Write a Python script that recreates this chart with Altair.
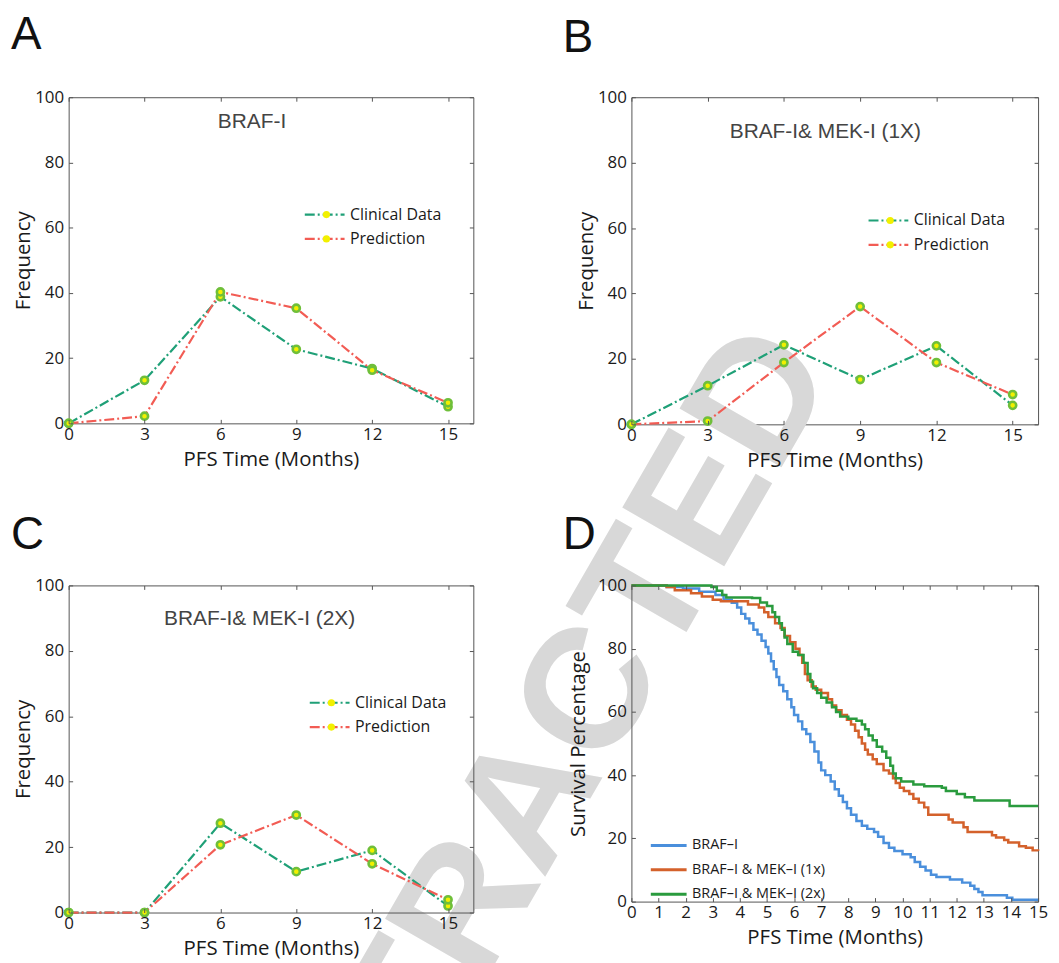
import altair as alt
import pandas as pd

# ---------------- data ----------------
months = [0, 3, 6, 9, 12, 15]
series_names = ["Clinical Data", "Prediction"]
marker_names = ["Clinical Data marker", "Prediction marker"]

a_clin = [0, 13.2, 38.8, 22.7, 16.8, 5.1]
a_pred = [0, 2.2, 40.3, 35.3, 16.3, 6.3]
b_clin = [0, 11.8, 24.3, 13.7, 24.0, 5.8]
b_pred = [0, 1.0, 18.9, 36.0, 18.9, 9.1]
c_clin = [0, 0, 27.3, 12.5, 19.0, 2.0]
c_pred = [0, 0, 20.7, 29.8, 14.9, 3.9]

freq_ticks = [0, 20, 40, 60, 80, 100]
d_month_ticks = list(range(16))

groups = ["BRAF\u2013I", "BRAF\u2013I & MEK\u2013I (1x)", "BRAF\u2013I & MEK\u2013I (2x)"]

braf_t = [0, 1.3, 1.9, 2.5, 3.1, 3.4, 3.7, 3.9, 4.05, 4.2, 4.35, 4.5, 4.65, 4.8, 4.95,
          5.05, 5.15, 5.25, 5.35, 5.45, 5.6, 5.75, 5.9, 6.0, 6.15, 6.3, 6.45, 6.6, 6.75,
          6.9, 7.0, 7.15, 7.35, 7.5, 7.65, 7.8, 7.95, 8.1, 8.3, 8.5, 8.7, 8.95, 9.1, 9.3,
          9.5, 9.7, 10.0, 10.3, 10.45, 10.65, 10.85, 11.05, 11.25, 11.75, 12.2, 12.5,
          12.65, 12.8, 12.95, 13.85, 14.05, 15.0]
braf_v = [100, 99.5, 99, 98, 97, 95.5, 94.5, 93, 91, 89.5, 88, 86, 84.5, 82.5, 80.5,
          78.5, 76, 73.5, 71, 68.5, 66.5, 64, 61.5, 59, 57, 54.5, 53, 50.5, 47.5,
          44, 41.5, 40, 38, 35.5, 33.5, 31.5, 29.5, 27.5, 25.5, 24, 23, 22, 20.5, 18.5,
          17, 16, 15, 14, 12.5, 11, 9.8, 8.5, 7.8, 7, 6, 5,
          4, 3, 2, 1.2, 0.6, 0.6]

mek1_t = [0, 1.3, 1.6, 2.2, 2.6, 3.0, 3.3, 4.3, 4.7, 4.9, 5.05, 5.3, 5.5, 5.65, 5.85,
          6.05, 6.2, 6.3, 6.4, 6.5, 6.65, 6.8, 7.0, 7.25, 7.4, 7.55, 7.75, 7.95, 8.1,
          8.25, 8.38, 8.5, 8.62, 8.72, 8.9, 9.05, 9.3, 9.5, 9.65, 9.75, 9.9, 10.05,
          10.25, 10.4, 10.6, 10.8, 10.95, 11.7, 11.85, 12.25, 12.4, 13.3, 13.45, 13.75,
          13.9, 14.3, 14.55, 14.8, 15.0]
mek1_v = [100, 99.5, 98.5, 97.5, 96.5, 95.5, 95, 94, 93, 91.5, 90, 88, 86.5, 84, 82,
          80, 78, 75.5, 72, 70, 68, 67, 66, 64, 62, 60.5, 59, 57.5, 56,
          54, 52, 50, 48, 46.5, 45, 43.5, 41.5, 40.5, 39, 37.5, 36, 35,
          34, 32.5, 31.3, 29.8, 27.5, 26, 25, 23.5, 22, 21, 20.3, 19.5,
          18.7, 17.5, 17, 16.2, 16]

mek2_t = [0, 2.95, 3.15, 3.35, 3.5, 4.45, 4.75, 5.0, 5.2, 5.3, 5.45, 5.55, 5.65, 5.75,
          5.95, 6.15, 6.35, 6.5, 6.6, 6.7, 6.85, 7.0, 7.2, 7.4, 7.55, 7.7, 8.0, 8.3,
          8.5, 8.62, 8.75, 8.9, 9.05, 9.25, 9.4, 9.55, 9.65, 9.75, 9.95, 10.4, 10.8,
          11.45, 11.6, 12.0, 12.3, 12.65, 13.95, 15.0]
mek2_v = [100, 99.5, 98.3, 97, 96.2, 96, 94.6, 93.5, 91.5, 90, 88, 86, 83.5, 81.5,
          79, 78, 75.5, 72, 69.5, 67.5, 66, 64.5, 63, 61.5, 60, 58.5, 57.8, 57.2,
          56, 54.5, 52.5, 51, 49, 47.5, 45.5, 43, 40.5, 39, 38, 37, 36.5,
          36, 35, 34, 33, 32, 30.2, 30.2]

# ---------------- styles ----------------
TEAL = "#1fa077"
RED = "#f25c54"
YELLOW = "#f2f000"
GREEN_MK = "#6fbf3a"
DASH = [10, 3, 2, 3]
D_COLORS = ["#4a8fdc", "#d4612b", "#2a9b3e"]
TXT = "#1a1a1a"


def panel_title(letter, dx, dy):
    return alt.TitleParams(letter, anchor="start", frame="group", dx=dx, dy=dy,
                           font="Liberation Sans", fontSize=46, fontWeight="normal",
                           color="#111111", offset=0)


def freq_panel(clin, pred, letter, label, lab_x, lab_y, leg_x, leg_y, w, h,
               title_dx, title_dy, below=None):
    n = len(months)
    df = pd.DataFrame({
        "month": months * 2,
        "freq": clin + pred,
        "series": [series_names[0]] * n + [series_names[1]] * n,
        "marker": [marker_names[0]] * n + [marker_names[1]] * n,
    })
    xs = alt.Scale(domain=[0, 16], nice=False, zero=False)
    ys = alt.Scale(domain=[0, 100], nice=False)
    base = alt.Chart(df)
    lines = base.mark_line(strokeDash=DASH, strokeWidth=2.2).encode(
        x=alt.X("month:Q", scale=xs,
                axis=alt.Axis(orient="bottom", values=months, title="PFS Time (Months)",
                              offset=-4, tickSize=4, labelPadding=3, titlePadding=7,
                              zindex=1)),
        y=alt.Y("freq:Q", scale=ys,
                axis=alt.Axis(orient="left", values=freq_ticks, title="Frequency",
                              offset=-4, tickSize=4, labelPadding=5, titlePadding=1,
                              zindex=1)),
        color=alt.Color("series:N",
                        scale=alt.Scale(domain=series_names, range=[TEAL, RED]),
                        legend=alt.Legend(orient="none", legendX=leg_x, legendY=leg_y,
                                          title=None, symbolType="stroke", symbolSize=1600,
                                          symbolStrokeWidth=2.2, symbolDash=DASH,
                                          clipHeight=16, rowPadding=8.5, labelOffset=4,
                                          labelFontSize=16, labelFont="Open Sans",
                                          labelColor=TXT, padding=0)),
    )
    pts = base.mark_point(filled=True, fill=YELLOW, stroke=GREEN_MK, strokeWidth=2.6,
                          size=52, opacity=1).encode(
        x=alt.X("month:Q", scale=xs,
                axis=alt.Axis(orient="top", values=months, labels=False, title=None,
                              offset=-4, tickSize=4, zindex=1)),
        y=alt.Y("freq:Q", scale=ys,
                axis=alt.Axis(orient="right", values=freq_ticks, labels=False, title=None,
                              offset=-4, tickSize=4, zindex=1)),
        shape=alt.Shape("marker:N",
                        scale=alt.Scale(domain=marker_names, range=["circle", "circle"]),
                        legend=alt.Legend(orient="none", legendX=leg_x + 15.25, legendY=leg_y,
                                          title=None, symbolType="circle",
                                          symbolFillColor=YELLOW,
                                          symbolStrokeColor=GREEN_MK, symbolStrokeWidth=2.6,
                                          symbolSize=52, clipHeight=16, rowPadding=8.5,
                                          labelExpr="''", labelFontSize=16,
                                          labelFont="Open Sans", padding=0)),
    )
    txt = alt.Chart(pd.DataFrame({"t": [label]})).mark_text(
        font="Liberation Sans", fontSize=21, color="#444444", baseline="middle", align="center"
    ).encode(
        text="t:N",
        x=alt.XDatum(lab_x, scale=xs, axis=None),
        y=alt.YDatum(lab_y, scale=ys, axis=None),
    )
    layers = ([below] if below is not None else []) + [lines, pts, txt]
    return alt.layer(*layers).resolve_axis(x="independent", y="independent").resolve_legend(
        color="independent", shape="independent"
    ).properties(
        width=w, height=h, title=panel_title(letter, title_dx, title_dy),
    )


watermark = alt.Chart(pd.DataFrame({"t": ["RETRACTED"]})).mark_text(
    font="Liberation Sans", fontSize=172, fontWeight="bold", color="#d8d8d8",
    angle=300, align="center", baseline="middle"
).encode(text="t:N", x=alt.value(-103), y=alt.value(708))

pa = freq_panel(a_clin, a_pred, "A", "BRAF-I", 7.25, 92.5, 236, 110, 407, 328, -58, -29)
pb = freq_panel(b_clin, b_pred, "B", "BRAF-I& MEK-I (1X)", 7.63, 89.5, 237, 116, 409, 329,
                -69, -26, below=watermark)
pc = freq_panel(c_clin, c_pred, "C", "BRAF-I& MEK-I (2X)", 7.55, 89.7, 241, 110, 407, 329,
                -58, -18)

surv = pd.DataFrame({
    "t": braf_t + mek1_t + mek2_t,
    "v": braf_v + mek1_v + mek2_v,
    "group": [groups[0]] * len(braf_t) + [groups[1]] * len(mek1_t) + [groups[2]] * len(mek2_t),
})
dx_scale = alt.Scale(domain=[0, 15], nice=False)
dy_scale = alt.Scale(domain=[0, 100], nice=False)
d_lines = alt.Chart(surv).mark_line(interpolate="step-after", strokeWidth=2.5).encode(
    x=alt.X("t:Q", scale=dx_scale,
            axis=alt.Axis(orient="bottom", values=d_month_ticks, title="PFS Time (Months)",
                          offset=-4, tickSize=4, labelPadding=3, titlePadding=7,
                          labelOverlap=False, zindex=1)),
    y=alt.Y("v:Q", scale=dy_scale,
            axis=alt.Axis(orient="left", values=freq_ticks, title="Survival Percentage",
                          offset=-4, tickSize=4, labelPadding=5, titlePadding=9, zindex=1)),
    color=alt.Color("group:N", scale=alt.Scale(domain=groups, range=D_COLORS),
                    legend=alt.Legend(orient="none", legendX=18, legendY=254, title=None,
                                      symbolType="stroke", symbolSize=1296,
                                      symbolStrokeWidth=3, clipHeight=15, rowPadding=8.5,
                                      labelOffset=4, labelFontSize=14.5, labelFont="Open Sans",
                                      labelColor=TXT, padding=0)),
    order="t:Q",
)
d_frame = alt.Chart(surv).mark_line(opacity=0).encode(
    x=alt.X("t:Q", scale=dx_scale,
            axis=alt.Axis(orient="top", values=d_month_ticks, labels=False, title=None,
                          offset=-4, tickSize=4, zindex=1)),
    y=alt.Y("v:Q", scale=dy_scale,
            axis=alt.Axis(orient="right", values=freq_ticks, labels=False, title=None,
                          offset=-4, tickSize=4, zindex=1)),
    detail="group:N",
)
pd_ = alt.layer(d_lines, d_frame).resolve_axis(x="independent", y="independent").properties(
    width=409, height=318, title=panel_title("D", -69, -18),
)

chart = alt.concat(pa, pb, pc, pd_, columns=2, spacing={"row": 162, "column": 159},
                   bounds="flush").resolve_scale(
    color="independent", shape="independent"
).resolve_legend(
    color="independent", shape="independent"
).properties(
    padding={"left": 2, "top": 0, "right": 2, "bottom": 2}
).configure_view(
    stroke="#555555", strokeWidth=1
).configure_axis(
    grid=False, domain=False, tickColor="#555555", tickWidth=1, zindex=1,
    labelFlush=False,
    labelFont="Open Sans", labelFontSize=17, labelColor=TXT,
    titleFont="Open Sans", titleFontSize=20.5, titleFontWeight="normal", titleColor=TXT,
).configure_legend(
    labelFont="Open Sans"
)

chart.save("out.html", embed_options={"renderer": "svg", "actions": False})
